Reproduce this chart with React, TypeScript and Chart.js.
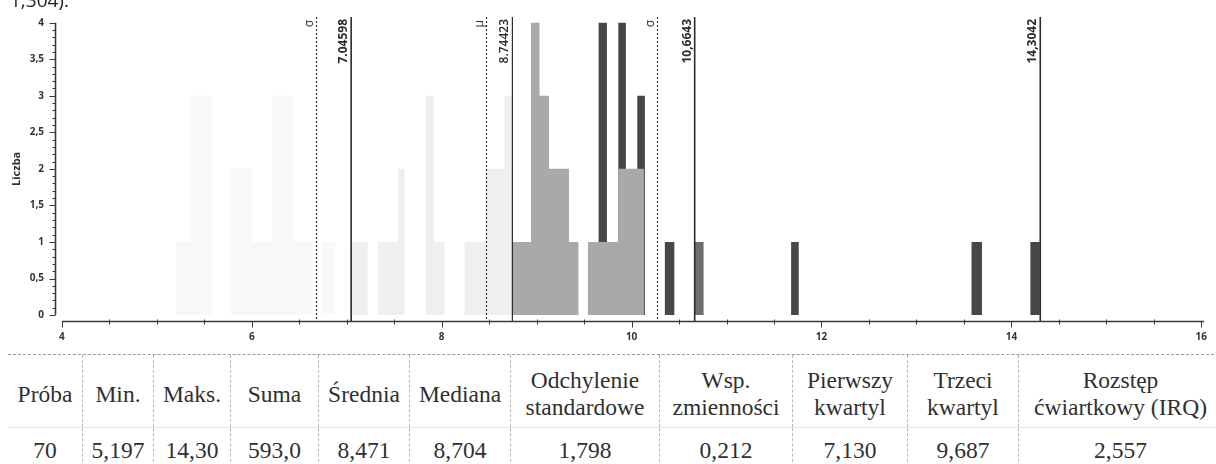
import React, { useEffect, useRef } from 'react';
import { Chart, registerables } from 'chart.js';

Chart.register(...registerables);

// ---------- data ----------
const xTickValues = [4, 6, 8, 10, 12, 14, 16];
const yTickValues = [0, 0.5, 1, 1.5, 2, 2.5, 3, 3.5, 4];
const yAxisTitle = 'Liczba';

// histogram bins: [start, end, count]
const palestBins = [
  [5.2, 5.36, 1], [5.36, 5.58, 3], [5.78, 6.0, 2], [6.0, 6.21, 1],
  [6.21, 6.44, 3], [6.44, 6.63, 1], [6.73, 6.88, 1],
];
const paleBins = [
  [7.04, 7.22, 1], [7.33, 7.54, 1], [7.54, 7.61, 2], [7.83, 7.92, 3],
  [7.92, 8.03, 1], [8.24, 8.46, 1], [8.46, 8.66, 2], [8.66, 8.74, 3],
];
const midBins = [
  [8.74, 8.94, 1], [8.94, 9.03, 4], [9.03, 9.13, 3], [9.13, 9.34, 2],
  [9.34, 9.44, 1], [9.54, 9.86, 1], [9.86, 10.13, 2],
];
const darkBins = [
  [9.65, 9.74, 4], [9.86, 9.94, 4], [10.06, 10.14, 3], [10.35, 10.45, 1],
  [11.68, 11.76, 1], [13.58, 13.69, 1], [14.2, 14.3, 1],
];
const greyBins = [[10.66, 10.76, 1]];

const meanValue = 8.471;
const sdValue = 1.798;
const solidLineValues = [7.04598, 8.74423, 10.6643, 14.3042];
const solidLineLabels = ['7.04598', '8.74423', '10,6643', '14,3042'];
const dottedLineValues = [meanValue - sdValue, meanValue, meanValue + sdValue];
const dottedLineLabels = ['σ', 'μ', 'σ'];

const tableHeaders = [
  ['Próba'], ['Min.'], ['Maks.'], ['Suma'], ['Średnia'], ['Mediana'],
  ['Odchylenie', 'standardowe'], ['Wsp.', 'zmienności'], ['Pierwszy', 'kwartyl'],
  ['Trzeci', 'kwartyl'], ['Rozstęp', 'ćwiartkowy (IRQ)'],
];
const tableValues = ['70', '5,197', '14,30', '593,0', '8,471', '8,704', '1,798', '0,212', '7,130', '9,687', '2,557'];
const topFragment = '1,304).';

// ---------- layout ----------
const colWidths = [74, 71, 77, 88, 91, 101, 149, 133, 115, 111, 204];

function toSteps(bins: number[][]) {
  const pts: { x: number; y: number }[] = [];
  bins.forEach(([a, b, h], i) => {
    pts.push({ x: a, y: h });
    const next = bins[i + 1];
    if (!next || next[0] > b + 1e-9) pts.push({ x: b, y: 0 });
  });
  return pts;
}

const AXIS_FONT = '"Open Sans", "DejaVu Sans", sans-serif';

const decorPlugin = {
  id: 'decor',
  afterDatasetsDraw(chart: any) {
    const { ctx, chartArea, scales } = chart;
    const x = scales.x;
    ctx.save();
    // dotted lines (sigma / mu)
    dottedLineValues.forEach((v, i) => {
      const px = Math.round(x.getPixelForValue(v)) + 0.5;
      ctx.strokeStyle = '#333';
      ctx.lineWidth = 1.2;
      ctx.setLineDash([2, 2]);
      ctx.beginPath();
      ctx.moveTo(px, chartArea.top);
      ctx.lineTo(px, chartArea.bottom - 3);
      ctx.stroke();
      ctx.setLineDash([]);
      ctx.save();
      ctx.translate(px - 4, chartArea.top + 3);
      ctx.rotate(-Math.PI / 2);
      ctx.fillStyle = '#333';
      ctx.font = '12px ' + AXIS_FONT;
      ctx.textAlign = 'right';
      ctx.textBaseline = 'alphabetic';
      ctx.fillText(dottedLineLabels[i], 0, 0);
      ctx.restore();
    });
    // solid lines
    solidLineValues.forEach((v, i) => {
      const px = x.getPixelForValue(v);
      ctx.strokeStyle = '#2a2a2a';
      ctx.lineWidth = i === 1 ? 1.2 : 1.6;
      ctx.beginPath();
      ctx.moveTo(px, chartArea.top);
      ctx.lineTo(px, chartArea.bottom - 1);
      ctx.stroke();
      ctx.save();
      ctx.translate(px - 4, chartArea.top + 2);
      ctx.rotate(-Math.PI / 2);
      ctx.fillStyle = '#2a2a2a';
      ctx.font = (i === 1 ? '600 ' : 'bold ') + '12px ' + AXIS_FONT;
      ctx.textAlign = 'right';
      ctx.textBaseline = 'alphabetic';
      ctx.fillText(solidLineLabels[i], 0, 0);
      ctx.restore();
    });
    ctx.restore();
  },
  afterDraw(chart: any) {
    const { ctx, chartArea, scales } = chart;
    const x = scales.x;
    const y = scales.y;
    ctx.save();
    ctx.strokeStyle = '#3a3a3a';
    // y axis
    const yx = chartArea.left + 0.5;
    const y0 = y.getPixelForValue(yTickValues[0]);
    const y1 = y.getPixelForValue(yTickValues[yTickValues.length - 1]);
    ctx.lineWidth = 1.6;
    ctx.beginPath();
    ctx.moveTo(yx, y0);
    ctx.lineTo(yx, y1);
    ctx.stroke();
    ctx.lineWidth = 1;
    for (let i = 0; i <= 40; i++) {
      const v = i / 10;
      const py = Math.round(y.getPixelForValue(v)) + 0.5;
      const len = i % 5 === 0 ? 6 : 3;
      ctx.beginPath();
      ctx.moveTo(yx - len, py);
      ctx.lineTo(yx, py);
      ctx.stroke();
    }
    // x axis
    const ay = chartArea.bottom - 0.5;
    const xStart = x.getPixelForValue(xTickValues[0]);
    ctx.lineWidth = 1.6;
    ctx.beginPath();
    ctx.moveTo(xStart, ay);
    ctx.lineTo(chartArea.right, ay);
    ctx.stroke();
    ctx.lineWidth = 1;
    for (let i = 0; i <= 24; i++) {
      const v = xTickValues[0] + i / 2;
      const px = Math.round(x.getPixelForValue(v)) + 0.5;
      const major = i % 4 === 0;
      ctx.beginPath();
      ctx.moveTo(px, ay - (major ? 0 : 2));
      ctx.lineTo(px, ay + (major ? 6 : 3));
      ctx.stroke();
    }
    // y title
    ctx.save();
    ctx.translate(chartArea.left - 38, y.getPixelForValue(2));
    ctx.rotate(-Math.PI / 2);
    ctx.fillStyle = '#333';
    ctx.font = 'bold 11px ' + AXIS_FONT;
    ctx.textAlign = 'center';
    ctx.textBaseline = 'middle';
    ctx.fillText(yAxisTitle, 0, 0);
    ctx.restore();
    ctx.restore();
  },
};

function HistogramChart() {
  const ref = useRef<HTMLCanvasElement | null>(null);
  useEffect(() => {
    if (!ref.current) return;
    const common = {
      stepped: true as const,
      pointRadius: 0,
      borderWidth: 0,
      fill: 'origin' as const,
      tension: 0,
    };
    const chart = new Chart(ref.current, {
      type: 'line',
      data: {
        datasets: [
          { ...common, label: 'a', data: toSteps(palestBins), backgroundColor: '#f8f8f8', borderColor: '#f8f8f8', order: 4 },
          { ...common, label: 'b', data: toSteps(paleBins), backgroundColor: '#efefef', borderColor: '#efefef', order: 4 },
          { ...common, label: 'c', data: toSteps(darkBins), backgroundColor: '#474747', borderColor: '#474747', order: 3 },
          { ...common, label: 'd', data: toSteps(midBins), backgroundColor: '#a9a9a9', borderColor: '#a9a9a9', order: 1 },
          { ...common, label: 'e', data: toSteps(greyBins), backgroundColor: '#6f6f6f', borderColor: '#6f6f6f', order: 1 },
        ],
      },
      options: {
        animation: false,
        responsive: false,
        events: [],
        layout: { padding: { top: 15, right: 4, left: 0, bottom: 0 } },
        plugins: { legend: { display: false }, tooltip: { enabled: false } },
        scales: {
          x: {
            type: 'linear',
            min: 3.9268,
            max: 16.031,
            grid: { display: false, drawTicks: false },
            border: { display: false },
            afterBuildTicks: (axis: any) => {
              axis.ticks = xTickValues.map((v) => ({ value: v }));
            },
            afterFit: (axis: any) => {
              axis.height = 23;
            },
            ticks: {
              autoSkip: false,
              maxRotation: 0,
              padding: 9,
              color: '#333',
              font: { family: AXIS_FONT, size: 10, weight: 'bold' },
              callback: (v: any) => String(v),
            },
          },
          y: {
            type: 'linear',
            min: -0.0951,
            max: 4.0775,
            grid: { display: false, drawTicks: false },
            border: { display: false },
            afterBuildTicks: (axis: any) => {
              axis.ticks = yTickValues.map((v) => ({ value: v }));
            },
            afterFit: (axis: any) => {
              axis.width = 55;
            },
            ticks: {
              autoSkip: false,
              padding: 11,
              color: '#333',
              font: { family: AXIS_FONT, size: 10, weight: 'bold' },
              callback: (v: any) => String(v).replace('.', ','),
            },
          },
        },
      },
      plugins: [decorPlugin],
    } as any);
    return () => chart.destroy();
  }, []);
  return <canvas ref={ref} width={1216} height={345} style={{ display: 'block', width: 1216, height: 345 }} />;
}

export default function App() {
  const serif = '"Liberation Serif", "Times New Roman", serif';
  const textColor = '#303030';
  return (
    <div style={{ position: 'absolute', left: 0, top: 0, width: 1216, height: 464, overflow: 'hidden', background: '#fff' }}>
      <div style={{ position: 'absolute', left: 0, top: 0 }}>
        <HistogramChart />
      </div>
      <div style={{ position: 'absolute', left: 10, top: -9, fontFamily: AXIS_FONT, fontSize: 19, lineHeight: '19px', color: '#222', whiteSpace: 'nowrap' }}>
        {topFragment}
      </div>
      <div style={{ position: 'absolute', left: 8, top: 354, width: 1216, borderTop: '1px dashed #9a9a9a', fontFamily: serif, fontSize: 23.5, color: textColor }}>
        <div style={{ display: 'flex', height: 73, boxSizing: 'border-box', paddingTop: 6, borderBottom: '1px solid #e4e4e4' }}>
          {tableHeaders.map((lines, i) => (
            <div key={i} style={{ width: colWidths[i], flex: 'none', display: 'flex', flexDirection: 'column', justifyContent: 'center', alignItems: 'center', lineHeight: '27px', whiteSpace: 'nowrap', borderLeft: i === 0 ? 'none' : '1px dashed #b8b8b8', boxSizing: 'border-box', marginTop: -6, paddingTop: 6 }}>
              {lines.map((l, j) => (<div key={j}>{l}</div>))}
            </div>
          ))}
        </div>
        <div style={{ display: 'flex', height: 44 }}>
          {tableValues.map((v, i) => (
            <div key={i} style={{ width: colWidths[i], flex: 'none', display: 'flex', justifyContent: 'center', alignItems: 'center', whiteSpace: 'nowrap', borderLeft: i === 0 ? 'none' : '1px dashed #b8b8b8', boxSizing: 'border-box' }}>
              {v}
            </div>
          ))}
        </div>
      </div>
    </div>
  );
}
